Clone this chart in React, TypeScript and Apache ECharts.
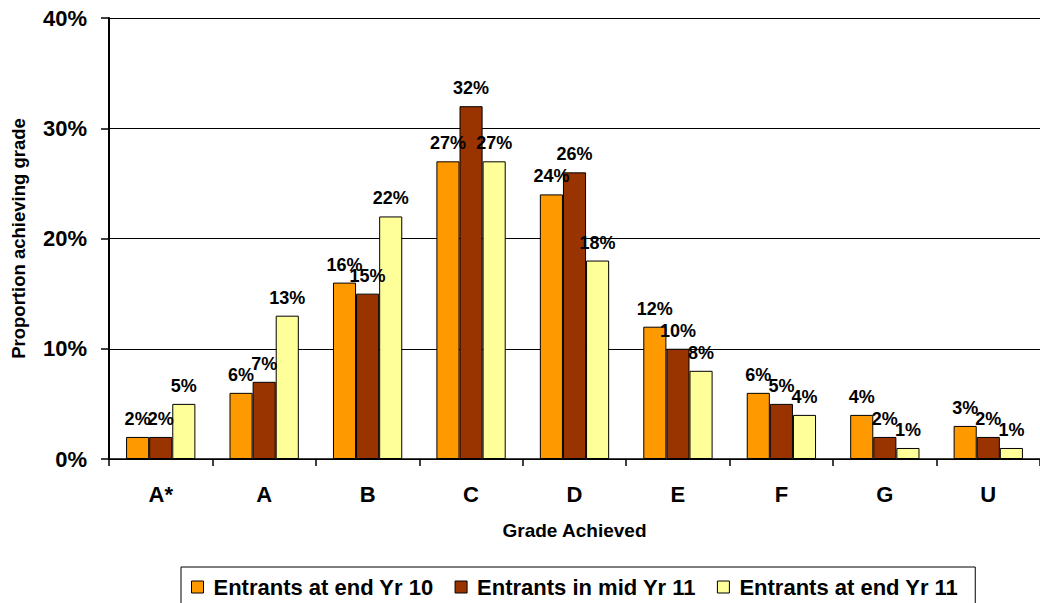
import React, { useEffect, useRef } from "react";
import * as echarts from "echarts";

const grades = ["A*", "A", "B", "C", "D", "E", "F", "G", "U"];
const endYr10 = [2, 6, 16, 27, 24, 12, 6, 4, 3];
const midYr11 = [2, 7, 15, 32, 26, 10, 5, 2, 2];
const endYr11 = [5, 13, 22, 27, 18, 8, 4, 1, 1];
const seriesNames = ["Entrants at end Yr 10", "Entrants in mid Yr 11", "Entrants at end Yr 11"];
const colors = ["#FF9900", "#993300", "#FFFF99"];

const FONT = "Arial, 'Liberation Sans', sans-serif";

export default function App() {
  const ref = useRef<HTMLDivElement>(null);
  useEffect(() => {
    const chart = echarts.init(ref.current!, null, { renderer: "svg" });
    const data = [endYr10, midYr11, endYr11];
    chart.setOption({
      animation: false,
      backgroundColor: "#fff",
      grid: { left: 109, top: 18, right: -6, bottom: 144 },
      legend: {
        left: 181,
        top: 567,
        padding: [9, 17, 16, 10],
        borderColor: "#000",
        borderWidth: 1,
        itemWidth: 12,
        itemHeight: 12,
        itemGap: 21,
        icon: "rect",
        textStyle: { fontFamily: FONT, fontWeight: "bold", fontSize: 22, color: "#000", padding: [0, 0, 0, 5] },
        data: seriesNames.map((n) => ({ name: n, itemStyle: { borderColor: "#000", borderWidth: 1 } })),
      },
      xAxis: {
        type: "category",
        data: grades,
        name: "Grade Achieved",
        nameLocation: "middle",
        nameGap: 62,
        nameTextStyle: { fontFamily: FONT, fontWeight: "bold", fontSize: 19, color: "#000" },
        axisLine: { lineStyle: { color: "#000", width: 1.5 } },
        axisTick: { show: true, length: 7, lineStyle: { color: "#000", width: 1.5 } },
        axisLabel: { fontFamily: FONT, fontWeight: "bold", fontSize: 22, color: "#000", margin: 24 },
      },
      yAxis: {
        type: "value",
        min: 0,
        max: 40,
        interval: 10,
        name: "Proportion achieving grade",
        nameLocation: "middle",
        nameGap: 81,
        nameTextStyle: { fontFamily: FONT, fontWeight: "bold", fontSize: 18.5, color: "#000" },
        axisLine: { show: true, lineStyle: { color: "#000", width: 2 } },
        axisTick: { show: true, length: 8, lineStyle: { color: "#000", width: 1.5 } },
        axisLabel: {
          fontFamily: FONT,
          fontWeight: "bold",
          fontSize: 22,
          color: "#000",
          margin: 22,
          formatter: (v: number) => v + "%",
        },
        splitLine: { show: true, lineStyle: { color: "#000", width: 1 } },
      },
      series: seriesNames.map((name, i) => ({
        type: "bar",
        name,
        data: data[i],
        barGap: "0%",
        barCategoryGap: "33%",
        itemStyle: { color: colors[i], borderColor: "#000", borderWidth: 1 },
        label: {
          show: true,
          position: "top",
          distance: 9,
          fontFamily: FONT,
          fontWeight: "bold",
          fontSize: 18,
          color: "#000",
          formatter: (p: any) => p.value + "%",
        },
      })),
    });
    return () => chart.dispose();
  }, []);
  return <div ref={ref} style={{ width: 1040, height: 603, position: "absolute", left: 0, top: 0 }} />;
}
